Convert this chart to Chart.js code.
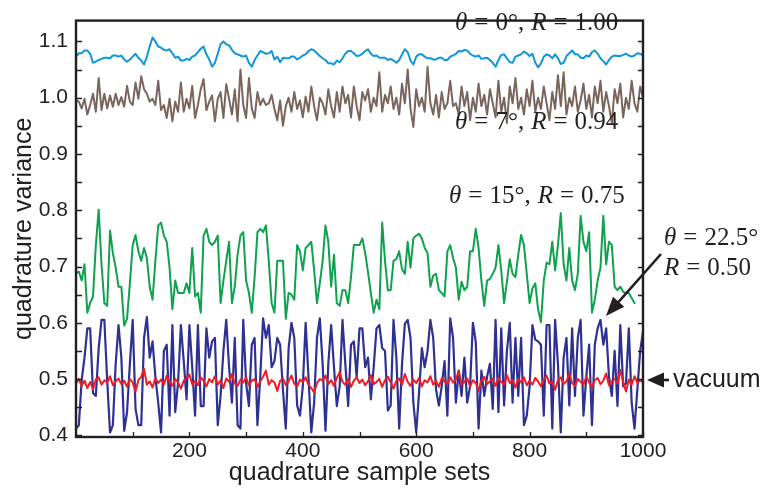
<!DOCTYPE html>
<html><head><meta charset="utf-8">
<script src="https://cdn.jsdelivr.net/npm/chart.js@4/dist/chart.umd.min.js"></script>
<style>html,body{margin:0;padding:0;background:#fff;}#wrap{width:766px;height:493px;}</style>
</head><body><div id="wrap"><canvas id="c" width="766" height="493"></canvas></div>
<script>
// ---- data (sample index spacing in "quadrature sample sets") ----
const STEP = 5;
const xTickLabels = [200, 400, 600, 800, 1000];
const yTickLabels = [0.4, 0.5, 0.6, 0.7, 0.8, 0.9, 1.0, 1.1];

const theta0 = [1.073,1.079,1.079,1.084,1.084,1.078,1.062,1.064,1.067,1.069,1.071,1.071,1.07,1.075,1.075,1.073,1.075,1.068,1.064,1.068,1.073,1.078,1.071,1.066,1.059,1.073,1.091,1.107,1.1,1.091,1.089,1.085,1.084,1.086,1.079,1.071,1.073,1.066,1.066,1.069,1.067,1.073,1.075,1.081,1.087,1.091,1.077,1.068,1.055,1.062,1.078,1.095,1.1,1.095,1.093,1.085,1.079,1.077,1.075,1.073,1.075,1.062,1.055,1.067,1.075,1.083,1.081,1.078,
1.079,1.083,1.068,1.073,1.063,1.071,1.07,1.07,1.073,1.073,1.068,1.071,1.075,1.077,1.083,1.086,1.084,1.079,1.074,1.07,1.067,1.061,1.061,1.059,1.066,1.063,1.07,1.078,1.083,1.083,1.079,1.074,1.075,1.078,1.083,1.086,1.078,1.074,1.075,1.071,1.071,1.071,1.067,1.069,1.066,1.062,1.067,1.077,1.086,1.081,1.066,1.059,1.073,1.077,1.077,1.073,1.07,1.07,1.068,1.068,1.071,1.071,1.067,1.067,1.073,1.075,
1.078,1.083,1.082,1.085,1.084,1.078,1.075,1.073,1.075,1.069,1.07,1.071,1.067,1.062,1.055,1.067,1.076,1.077,1.07,1.063,1.062,1.073,1.075,1.077,1.082,1.079,1.074,1.078,1.062,1.054,1.061,1.073,1.077,1.075,1.07,1.077,1.07,1.06,1.062,1.074,1.079,1.084,1.077,1.077,1.071,1.07,1.075,1.073,1.081,1.084,1.078,1.07,1.065,1.059,1.067,1.073,1.075,1.074,1.074,1.076,1.078,1.075,1.073,1.075,1.079,1.078,1.075];

const theta7 = [0.995,0.993,0.981,0.998,0.97,0.987,1.007,0.975,1.035,0.978,1.007,0.981,1.004,0.984,1.007,0.987,1.001,0.984,1.021,0.993,0.987,1.027,0.998,1.038,1.015,1.007,0.993,0.998,0.987,1.03,0.978,0.987,0.964,0.998,0.958,0.993,0.975,1.027,0.975,0.998,0.981,1.021,0.964,0.987,1.015,1.033,0.978,0.993,1.004,0.958,0.998,1.01,0.964,1.024,0.998,0.97,1.015,0.958,1.05,0.987,0.964,1.035,0.981,0.964,1.01,0.987,0.998,0.987,
0.99,1.005,0.98,0.96,0.995,0.95,0.985,1.0,0.975,1.01,0.98,0.995,0.965,1.002,0.975,1.02,0.985,0.96,1.0,0.99,0.97,1.015,0.985,0.965,1.01,0.975,1.02,0.99,1.005,0.965,1.02,0.985,0.96,1.01,0.995,1.015,0.975,1.0,0.985,1.045,0.975,1.005,0.99,1.02,0.98,1.0,0.97,1.025,0.99,1.05,0.98,0.948,1.015,0.985,1.0,0.975,1.055,0.99,0.97,1.005,0.965,1.01,0.98,0.99,1.03,0.985,
0.99,0.97,1.02,0.985,1.01,0.96,1.0,0.975,1.025,0.985,1.005,0.97,1.015,0.99,0.965,1.03,0.975,1.0,0.955,1.02,0.99,1.035,0.98,1.0,0.97,1.015,0.985,1.03,0.975,1.0,0.98,1.02,0.99,0.96,1.01,0.98,1.04,0.985,1.045,0.97,1.0,0.985,1.02,0.975,0.995,1.025,0.98,1.005,0.965,1.02,0.99,1.03,0.975,1.01,0.985,0.955,1.015,0.99,1.025,0.965,1.0,0.98,1.03,0.99,0.975,1.02,1.0];

const theta15 = [0.687,0.691,0.675,0.704,0.618,0.635,0.647,0.738,0.801,0.704,0.635,0.63,0.764,0.724,0.698,0.664,0.664,0.595,0.607,0.67,0.738,0.756,0.727,0.71,0.733,0.715,0.664,0.641,0.71,0.773,0.778,0.755,0.744,0.698,0.624,0.675,0.653,0.653,0.653,0.67,0.653,0.733,0.647,0.653,0.618,0.755,0.767,0.744,0.738,0.744,0.755,0.635,0.675,0.71,0.744,0.635,0.664,0.721,0.755,0.761,0.675,0.653,0.618,0.681,0.761,0.767,0.761,0.773,
0.71,0.635,0.618,0.71,0.71,0.71,0.607,0.653,0.65,0.641,0.738,0.727,0.693,0.733,0.738,0.744,0.693,0.635,0.67,0.71,0.773,0.744,0.664,0.721,0.635,0.63,0.658,0.658,0.635,0.681,0.738,0.738,0.738,0.75,0.724,0.69,0.653,0.618,0.641,0.624,0.778,0.71,0.658,0.658,0.71,0.713,0.727,0.695,0.687,0.744,0.698,0.75,0.755,0.758,0.75,0.733,0.724,0.664,0.684,0.687,0.658,0.653,0.647,0.727,0.738,0.715,
0.698,0.641,0.673,0.658,0.664,0.727,0.727,0.767,0.733,0.675,0.63,0.675,0.678,0.687,0.698,0.738,0.693,0.635,0.673,0.713,0.687,0.681,0.721,0.756,0.738,0.687,0.635,0.661,0.67,0.624,0.601,0.675,0.707,0.704,0.744,0.693,0.738,0.795,0.704,0.675,0.733,0.675,0.658,0.687,0.79,0.744,0.727,0.761,0.618,0.641,0.675,0.698,0.79,0.704,0.744,0.738,0.664,0.658,0.664,0.655,0.653,0.653,0.644,0.635];

const theta22 = [0.412,0.418,0.498,0.538,0.59,0.59,0.475,0.47,0.555,0.605,0.605,0.498,0.405,0.418,0.527,0.596,0.538,0.408,0.441,0.527,0.605,0.447,0.418,0.418,0.573,0.61,0.538,0.567,0.504,0.458,0.405,0.55,0.561,0.435,0.596,0.441,0.493,0.596,0.532,0.464,0.596,0.521,0.435,0.596,0.452,0.452,0.59,0.538,0.567,0.573,0.418,0.47,0.55,0.605,0.521,0.458,0.573,0.418,0.412,0.605,0.493,0.452,0.561,0.573,0.418,0.504,0.608,0.573,
0.596,0.521,0.532,0.573,0.561,0.481,0.412,0.555,0.6,0.573,0.453,0.435,0.487,0.6,0.504,0.405,0.458,0.573,0.608,0.527,0.408,0.527,0.596,0.521,0.452,0.487,0.605,0.527,0.452,0.561,0.567,0.504,0.59,0.59,0.521,0.538,0.464,0.521,0.59,0.596,0.555,0.55,0.444,0.453,0.605,0.538,0.412,0.527,0.598,0.605,0.573,0.458,0.405,0.475,0.555,0.521,0.55,0.605,0.573,0.481,0.453,0.487,0.532,0.435,0.608,0.573,
0.458,0.515,0.47,0.538,0.458,0.487,0.6,0.567,0.412,0.515,0.47,0.504,0.527,0.447,0.605,0.441,0.59,0.453,0.55,0.6,0.458,0.573,0.47,0.573,0.418,0.435,0.487,0.596,0.57,0.567,0.561,0.435,0.596,0.596,0.412,0.605,0.527,0.405,0.538,0.573,0.453,0.59,0.47,0.573,0.605,0.435,0.504,0.561,0.418,0.561,0.59,0.605,0.561,0.59,0.504,0.47,0.55,0.452,0.596,0.487,0.492,0.59,0.458,0.412,0.481,0.55,0.584];

const vacuum = [0.492,0.5,0.488,0.497,0.484,0.495,0.482,0.499,0.503,0.49,
0.498,0.494,0.505,0.489,0.496,0.501,0.491,0.497,0.486,0.5,
0.494,0.478,0.498,0.504,0.518,0.49,0.496,0.485,0.502,0.493,
0.499,0.49,0.506,0.495,0.488,0.5,0.494,0.483,0.497,0.502,
0.508,0.491,0.496,0.489,0.503,0.497,0.487,0.5,0.494,0.505,
0.49,0.498,0.484,0.501,0.495,0.509,0.492,0.488,0.499,0.494,
0.503,0.489,0.497,0.5,0.486,0.496,0.504,0.515,0.49,0.498,
0.494,0.479,0.497,0.501,0.489,0.496,0.506,0.492,0.487,0.499,
0.495,0.503,0.49,0.484,0.476,0.493,0.5,0.497,0.506,0.491,
0.498,0.488,0.502,0.512,0.495,0.49,0.5,0.486,0.497,0.503,
0.493,0.499,0.489,0.496,0.507,0.491,0.495,0.5,0.486,0.498,
0.504,0.494,0.483,0.497,0.501,0.49,0.509,0.495,0.488,0.499,
0.493,0.502,0.487,0.498,0.494,0.505,0.49,0.497,0.486,0.501,
0.496,0.491,0.503,0.494,0.499,0.514,0.49,0.495,0.501,0.487,
0.498,0.493,0.479,0.497,0.504,0.491,0.496,0.5,0.488,0.502,
0.495,0.49,0.507,0.493,0.498,0.485,0.5,0.494,0.503,0.489,
0.497,0.49,0.502,0.496,0.487,0.499,0.506,0.492,0.495,0.481,
0.498,0.503,0.491,0.496,0.509,0.493,0.488,0.5,0.495,0.49,
0.504,0.494,0.486,0.498,0.502,0.491,0.497,0.51,0.489,0.496,
0.5,0.492,0.516,0.495,0.478,0.499,0.49,0.505,0.493,0.498,
0.494];

const seriesLabels = ['θ = 0°, R = 1.00', 'θ = 7°, R = 0.94', 'θ = 15°, R = 0.75', 'θ = 22.5°, R = 0.50', 'vacuum'];
const xTitle = 'quadrature sample sets';
const yTitle = 'quadrature variance';

// ---- chart ----
const INK = '#231f20';
const toPts = arr => arr.map((v, i) => ({x: i * STEP, y: v}));

function richText(ctx, str, x, y, size, gap) {
  let cx = x;
  str.split(' ').forEach((tok, idx) => {
    if (idx > 0) cx += gap;
    const ital = (tok === 'θ' || tok === 'R');
    ctx.font = (ital ? 'italic ' : '') + size + 'px "Liberation Serif", "DejaVu Serif", serif';
    ctx.fillText(tok, cx, y);
    cx += ctx.measureText(tok).width;
  });
}
function arrow(ctx, x1, y1, x2, y2, headLen, headHalf) {
  const a = Math.atan2(y2 - y1, x2 - x1);
  const bx = x2 - headLen * Math.cos(a), by = y2 - headLen * Math.sin(a);
  ctx.beginPath(); ctx.moveTo(x1, y1); ctx.lineTo(bx + 2*Math.cos(a), by + 2*Math.sin(a)); ctx.stroke();
  ctx.beginPath();
  ctx.moveTo(x2, y2);
  ctx.lineTo(bx - headHalf * Math.sin(a), by + headHalf * Math.cos(a));
  ctx.lineTo(bx + headHalf * Math.sin(a), by - headHalf * Math.cos(a));
  ctx.closePath(); ctx.fill();
}

const framePlugin = {
  id: 'frame',
  afterDatasetsDraw(chart) {
    const {ctx, chartArea: ca, scales} = chart;
    ctx.save();
    ctx.strokeStyle = INK; ctx.lineWidth = 1.3;
    const yt = [];
    yTickLabels.forEach((v, i) => { yt.push(v); if (i < yTickLabels.length - 1) yt.push((v + yTickLabels[i+1]) / 2); });
    yt.push(yTickLabels[yTickLabels.length-1] + (yTickLabels[1]-yTickLabels[0]) / 2);
    ctx.beginPath();
    yt.forEach(v => {
      const p = Math.round(scales.y.getPixelForValue(v)) + 0.5;
      if (p < ca.top || p > ca.bottom) return;
      ctx.moveTo(ca.left, p); ctx.lineTo(ca.left + 6, p);
      ctx.moveTo(ca.right, p); ctx.lineTo(ca.right - 5, p);
    });
    const xt = [];
    xTickLabels.forEach((v, i) => { xt.push(v); xt.push(v - (xTickLabels[1]-xTickLabels[0]) / 2); });
    xt.forEach(v => {
      const p = Math.round(scales.x.getPixelForValue(v)) + 0.5;
      ctx.moveTo(p, ca.bottom); ctx.lineTo(p, ca.bottom - 5);
    });
    ctx.stroke();
    ctx.lineWidth = 2.4;
    ctx.strokeRect(ca.left, ca.top, ca.right - ca.left, ca.bottom - ca.top);
    ctx.restore();
  },
  afterDraw(chart) {
    const {ctx} = chart;
    ctx.save();
    ctx.fillStyle = INK; ctx.strokeStyle = INK;
    ctx.textBaseline = 'alphabetic'; ctx.textAlign = 'left';
    richText(ctx, seriesLabels[0], 455, 30, 25, 7);
    richText(ctx, seriesLabels[1], 455, 129, 25, 7);
    richText(ctx, seriesLabels[2], 449, 203, 25, 7);
    const parts = seriesLabels[3].split(', ');
    richText(ctx, parts[0], 664, 245, 25, 7);
    richText(ctx, parts[1], 664, 275, 25, 7);
    ctx.font = '25px "Liberation Sans", Arial, sans-serif';
    ctx.fillText(seriesLabels[4], 673, 387);
    ctx.lineWidth = 2.6;
    arrow(ctx, 661, 254, 606, 316, 19, 7.5);
    arrow(ctx, 669, 380, 647, 380, 17, 7.5);
    ctx.restore();
  }
};

Chart.defaults.font.family = '"Liberation Sans", Arial, sans-serif';
Chart.defaults.color = INK;

new Chart(document.getElementById('c'), {
  type: 'line',
  data: {
    datasets: [
      {label: seriesLabels[4], data: toPts(vacuum), borderColor: '#ed1c24', borderWidth: 2},
      {label: seriesLabels[3], data: toPts(theta22), borderColor: '#2e3192', borderWidth: 2.2},
      {label: seriesLabels[2], data: toPts(theta15), borderColor: '#0ea14e', borderWidth: 2},
      {label: seriesLabels[1], data: toPts(theta7), borderColor: '#7a655d', borderWidth: 2},
      {label: seriesLabels[0], data: toPts(theta0), borderColor: '#0f97d9', borderWidth: 2}
    ]
  },
  options: {
    responsive: false, animation: false, devicePixelRatio: 1,
    layout: {padding: {left: 0, top: 6, right: 123, bottom: 0}},
    plugins: {legend: {display: false}, tooltip: {enabled: false}},
    elements: {point: {radius: 0}, line: {tension: 0, borderJoinStyle: 'round', borderCapStyle: 'round'}},
    scales: {
      x: {
        type: 'linear', min: 0, max: 1000,
        grid: {display: false, drawTicks: false}, border: {display: false},
        afterBuildTicks: s => { s.ticks = xTickLabels.map(v => ({value: v})); },
        afterFit: s => { s.height = 56; },
        ticks: {font: {size: 21}, color: INK, padding: 2, maxRotation: 0, autoSkip: false, callback: v => String(v)},
        title: {display: true, text: xTitle, font: {size: 25}, color: INK, padding: {top: 0, bottom: 5}}
      },
      y: {
        type: 'linear', min: 0.397, max: 1.137,
        grid: {display: false, drawTicks: false}, border: {display: false},
        afterBuildTicks: s => { s.ticks = yTickLabels.map(v => ({value: v})); },
        afterFit: s => { s.width = 76; },
        ticks: {font: {size: 21}, color: INK, padding: 8, autoSkip: false, callback: v => Number(v).toFixed(1)},
        title: {display: true, text: yTitle, font: {size: 25}, color: INK, padding: {top: 9, bottom: 0}}
      }
    }
  },
  plugins: [framePlugin]
});
</script>
</body></html>
